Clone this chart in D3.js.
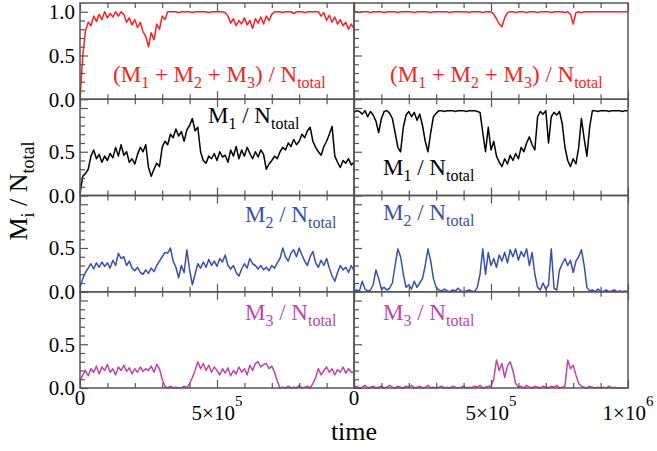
<!DOCTYPE html>
<html>
<head>
<meta charset="utf-8">
<script src="https://cdn.jsdelivr.net/npm/d3@7"></script>
<style>
  body { margin: 0; background: #fff; }
  svg { display: block; }
  text { font-family: "Liberation Serif", "Times New Roman", serif; }
</style>
</head>
<body>
<svg id="chart" width="657" height="451"></svg>
<script>
// samples every 1e4 time steps, 0 .. 1e6
const times = d3.range(0, 1000001, 10000);

const totalLeft = [
  0.00, 0.50, 0.78, 0.88, 0.84, 0.95, 0.89, 0.97, 0.91, 1.00,
  0.93, 0.98, 0.94, 1.00, 0.95, 1.00, 0.97, 0.88, 0.93, 0.85,
  0.91, 0.82, 0.88, 0.77, 0.72, 0.60, 0.76, 0.68, 0.86, 0.80,
  0.95, 0.91, 1.00, 1.00, 1.00, 1.00, 0.99, 1.00, 1.00, 1.00,
  1.00, 0.99, 1.00, 1.00, 1.00, 1.00, 1.00, 0.99, 1.00, 1.00,
  1.00, 1.00, 1.00, 0.99, 0.95, 0.87, 0.92, 0.84, 0.90, 0.86,
  0.93, 0.85, 0.90, 0.81, 0.92, 0.87, 0.94, 0.86, 0.95, 0.90,
  0.97, 1.00, 1.00, 1.00, 0.99, 1.00, 1.00, 1.00, 0.98, 1.00,
  1.00, 1.00, 0.99, 1.00, 1.00, 1.00, 1.00, 1.00, 0.95, 0.99,
  0.90, 0.96, 0.88, 0.94, 0.86, 0.91, 0.84, 0.88, 0.80, 0.86,
  0.80
];
const totalRight = [
  1.00, 1.00, 0.99, 1.00, 1.00, 1.00, 0.99, 1.00, 1.00, 1.00,
  1.00, 0.99, 1.00, 1.00, 1.00, 1.00, 0.99, 1.00, 1.00, 1.00,
  1.00, 1.00, 0.99, 1.00, 1.00, 1.00, 1.00, 1.00, 0.99, 1.00,
  1.00, 1.00, 1.00, 1.00, 1.00, 0.99, 1.00, 1.00, 1.00, 1.00,
  1.00, 1.00, 0.99, 1.00, 1.00, 1.00, 1.00, 0.99, 1.00, 1.00,
  1.00, 0.97, 0.92, 0.86, 0.83, 0.93, 0.99, 1.00, 1.00, 0.99,
  1.00, 1.00, 1.00, 0.99, 1.00, 1.00, 1.00, 0.99, 1.00, 1.00,
  1.00, 1.00, 0.99, 1.00, 1.00, 1.00, 1.00, 0.99, 1.00, 0.97,
  0.86, 0.99, 1.00, 0.99, 1.00, 1.00, 1.00, 1.00, 1.00, 1.00,
  1.00, 1.00, 1.00, 1.00, 1.00, 1.00, 1.00, 1.00, 1.00, 1.00,
  1.00
];
const m1Left = [
  0.02, 0.22, 0.25, 0.30, 0.45, 0.52, 0.42, 0.47, 0.38, 0.45,
  0.40, 0.48, 0.43, 0.55, 0.45, 0.58, 0.46, 0.50, 0.38, 0.42,
  0.36, 0.47, 0.55, 0.50, 0.58, 0.32, 0.22, 0.30, 0.37, 0.33,
  0.55, 0.62, 0.58, 0.70, 0.66, 0.76, 0.68, 0.73, 0.62, 0.75,
  0.80, 0.88, 0.74, 0.78, 0.50, 0.40, 0.37, 0.45, 0.42, 0.48,
  0.40, 0.50, 0.44, 0.46, 0.38, 0.52, 0.45, 0.56, 0.42, 0.52,
  0.45, 0.55, 0.48, 0.42, 0.50, 0.44, 0.52, 0.47, 0.30, 0.36,
  0.40, 0.45, 0.42, 0.50, 0.55, 0.52, 0.60, 0.56, 0.64, 0.58,
  0.62, 0.70, 0.66, 0.74, 0.78, 0.62, 0.55, 0.50, 0.46, 0.56,
  0.62, 0.70, 0.79, 0.45, 0.38, 0.32, 0.40, 0.37, 0.42, 0.35,
  0.38
];
const m1Right = [
  0.95, 0.97, 0.96, 0.93, 0.97, 0.90, 0.96, 0.92, 0.85, 0.72,
  0.88, 0.96, 0.97, 0.94, 0.88, 0.72, 0.55, 0.50, 0.78, 0.92,
  0.96, 0.90, 0.95, 0.86, 0.93, 0.80, 0.62, 0.50, 0.72, 0.90,
  0.94, 0.97, 0.97, 0.96, 0.97, 0.97, 0.97, 0.96, 0.97, 0.97,
  0.97, 0.96, 0.97, 0.97, 0.97, 0.96, 0.95, 0.72, 0.50, 0.78,
  0.52, 0.62, 0.45, 0.38, 0.33, 0.42, 0.36, 0.46, 0.40, 0.48,
  0.42, 0.55, 0.50, 0.60, 0.67, 0.58, 0.52, 0.90, 0.96, 0.93,
  0.97, 0.60, 0.90, 0.95, 0.92, 0.96, 0.82, 0.55, 0.40, 0.33,
  0.42, 0.36, 0.55, 0.88, 0.65, 0.45, 0.78, 0.97, 0.97, 0.96,
  0.97, 0.97, 0.97, 0.96, 0.97, 0.97, 0.97, 0.97, 0.96, 0.97,
  0.97
];
const m2Left = [
  0.05, 0.15, 0.22, 0.27, 0.32, 0.26, 0.33, 0.28, 0.34, 0.29,
  0.33, 0.27, 0.36, 0.30, 0.44, 0.38, 0.40, 0.30, 0.35, 0.27,
  0.24, 0.28, 0.22, 0.20, 0.25, 0.21, 0.27, 0.23, 0.30, 0.35,
  0.40, 0.45, 0.44, 0.50, 0.35, 0.28, 0.16, 0.30, 0.22, 0.48,
  0.25, 0.08, 0.20, 0.32, 0.27, 0.34, 0.28, 0.37, 0.30, 0.35,
  0.29, 0.38, 0.34, 0.42, 0.30, 0.26, 0.30, 0.22, 0.18, 0.26,
  0.32, 0.27, 0.38, 0.32, 0.30, 0.26, 0.30, 0.25, 0.28, 0.24,
  0.30, 0.27, 0.33, 0.38, 0.50, 0.40, 0.35, 0.44, 0.48, 0.40,
  0.50, 0.42, 0.35, 0.30, 0.40, 0.46, 0.33, 0.28, 0.36, 0.30,
  0.38, 0.27, 0.18, 0.12, 0.22, 0.30, 0.25, 0.28, 0.22, 0.30,
  0.24
];
const m2Right = [
  0.01, 0.02, 0.01, 0.12, 0.03, 0.01, 0.02, 0.08, 0.25, 0.15,
  0.03, 0.05, 0.02, 0.04, 0.10, 0.30, 0.49, 0.40, 0.20, 0.05,
  0.08, 0.03, 0.12, 0.05, 0.10, 0.15, 0.30, 0.49, 0.35, 0.15,
  0.05, 0.02, 0.01, 0.03, 0.01, 0.00, 0.02, 0.01, 0.04, 0.01,
  0.00, 0.01, 0.02, 0.01, 0.00, 0.05, 0.20, 0.49, 0.20, 0.45,
  0.30, 0.38, 0.28, 0.42, 0.35, 0.45, 0.33, 0.48, 0.40, 0.49,
  0.36, 0.46, 0.40, 0.49, 0.30, 0.45, 0.20, 0.05, 0.02, 0.10,
  0.03, 0.08, 0.49, 0.04, 0.02, 0.25, 0.32, 0.38, 0.30, 0.36,
  0.22, 0.35, 0.40, 0.48, 0.30, 0.05, 0.01, 0.02, 0.00, 0.03,
  0.01, 0.00, 0.02, 0.00, 0.01, 0.02, 0.00, 0.01, 0.00, 0.01,
  0.00
];
const m3Left = [
  0.08, 0.15, 0.20, 0.14, 0.22, 0.18, 0.25, 0.16, 0.24, 0.20,
  0.27, 0.18, 0.22, 0.15, 0.24, 0.20, 0.26, 0.19, 0.23, 0.16,
  0.22, 0.18, 0.24, 0.19, 0.22, 0.20, 0.25, 0.18, 0.27, 0.22,
  0.10, 0.02, 0.00, 0.02, 0.00, 0.01, 0.00, 0.00, 0.02, 0.00,
  0.05, 0.12, 0.20, 0.30, 0.22, 0.28, 0.20, 0.26, 0.18, 0.24,
  0.20, 0.15, 0.22, 0.17, 0.23, 0.14, 0.20, 0.16, 0.24, 0.18,
  0.22, 0.15, 0.26, 0.20, 0.28, 0.30, 0.24, 0.27, 0.28, 0.22,
  0.25, 0.18, 0.08, 0.00, 0.01, 0.00, 0.02, 0.00, 0.01, 0.00,
  0.03, 0.00, 0.01, 0.02, 0.00, 0.05, 0.12, 0.22, 0.15, 0.20,
  0.24, 0.18, 0.22, 0.15, 0.21, 0.18, 0.24, 0.17, 0.22, 0.18,
  0.18
];
const m3Right = [
  0.01, 0.02, 0.00, 0.01, 0.03, 0.00, 0.01, 0.02, 0.00, 0.01,
  0.02, 0.00, 0.01, 0.03, 0.01, 0.00, 0.02, 0.01, 0.00, 0.02,
  0.01, 0.03, 0.00, 0.01, 0.02, 0.00, 0.01, 0.03, 0.00, 0.01,
  0.00, 0.01, 0.02, 0.00, 0.01, 0.00, 0.02, 0.01, 0.00, 0.01,
  0.02, 0.00, 0.01, 0.00, 0.02, 0.01, 0.03, 0.00, 0.01, 0.02,
  0.02, 0.10, 0.32, 0.20, 0.28, 0.12, 0.25, 0.30, 0.20, 0.05,
  0.01, 0.02, 0.00, 0.03, 0.01, 0.00, 0.02, 0.01, 0.00, 0.02,
  0.01, 0.00, 0.02, 0.01, 0.03, 0.00, 0.01, 0.02, 0.32, 0.22,
  0.26, 0.15, 0.05, 0.02, 0.01, 0.00, 0.02, 0.01, 0.00, 0.01,
  0.00, 0.01, 0.00, 0.02, 0.00, 0.01, 0.00, 0.00, 0.00, 0.00,
  0.00
];

const yTickLabels = ["0.0", "0.5", "1.0"];

const RED = "#ff2020", BLACK = "#000000", BLUE = "#3a4db2", MAGENTA = "#c342a8";

// label pieces: [text, subscript?]
const sumLabel = [["(M", 0], ["1", 1], [" + M", 0], ["2", 1], [" + M", 0], ["3", 1], [") / N", 0], ["total", 1]];
const mLabel = k => [["M", 0], [k, 1], [" / N", 0], ["total", 1]];

const rows = [
  { left: totalLeft, right: totalRight, color: RED, label: sumLabel,
    lPos: [113, 82], rPos: [390, 82], yLabels: [0, 0.5, 1.0] },
  { left: m1Left, right: m1Right, color: BLACK, label: mLabel("1"),
    lPos: [208, 123], rPos: [383, 175], yLabels: [0, 0.5] },
  { left: m2Left, right: m2Right, color: BLUE, label: mLabel("2"),
    lPos: [245, 222], rPos: [383, 220], yLabels: [0, 0.5] },
  { left: m3Left, right: m3Right, color: MAGENTA, label: mLabel("3"),
    lPos: [245, 320], rPos: [383, 320], yLabels: [0, 0.5] }
];

const svg = d3.select("#chart");
const left0 = 80, panelW = 274, top0 = 3, rowH = 96.25;
const frameColor = "#555";

const x = d3.scaleLinear().domain([0, 1e6]).range([0, panelW]);
const y = d3.scaleLinear().domain([0, 1.1]).range([rowH, 0]);

const xMajor = [0, 5e5, 1e6];
const xMinor = d3.range(1e5, 1e6, 1e5).filter(v => v !== 5e5);
const yMajor = [0, 0.5, 1.0];
const yMinor = [0.1, 0.2, 0.3, 0.4, 0.6, 0.7, 0.8, 0.9];

function styleAxis(g) {
  g.select(".domain").remove();
  g.selectAll("line").attr("stroke", frameColor).attr("stroke-width", 1.2);
  g.selectAll("text").remove();
}

function addLabel(g, pos, parts, color, size, subSize) {
  const t = g.append("text")
    .attr("x", pos[0]).attr("y", pos[1])
    .attr("fill", color)
    .style("font-size", size + "px")
    .attr("xml:space", "preserve");
  let shifted = false;
  parts.forEach(([s, sub]) => {
    const ts = t.append("tspan").text(s);
    if (sub && !shifted) { ts.attr("dy", 6).style("font-size", subSize + "px"); shifted = true; }
    else if (sub) { ts.style("font-size", subSize + "px"); }
    else if (shifted) { ts.attr("dy", -6); shifted = false; }
  });
}

const line = d3.line()
  .x((d, i) => x(times[i]))
  .y(d => y(d));

rows.forEach((row, r) => {
  const rowTop = top0 + r * rowH;
  [row.left, row.right].forEach((vals, c) => {
    const g = svg.append("g")
      .attr("transform", `translate(${left0 + c * panelW},${rowTop})`);

    g.append("path")
      .datum(vals)
      .attr("d", line)
      .attr("fill", "none")
      .attr("stroke", row.color)
      .attr("stroke-width", 1.5)
      .attr("stroke-linejoin", "round");

    // inward ticks on left, top, bottom
    g.append("g").call(d3.axisLeft(y).tickValues(yMajor).tickSize(-8)).call(styleAxis);
    g.append("g").call(d3.axisLeft(y).tickValues(yMinor).tickSize(-5)).call(styleAxis);
    g.append("g").attr("transform", `translate(0,${rowH})`)
      .call(d3.axisBottom(x).tickValues(xMajor).tickSize(-8)).call(styleAxis);
    g.append("g").attr("transform", `translate(0,${rowH})`)
      .call(d3.axisBottom(x).tickValues(xMinor).tickSize(-5)).call(styleAxis);
    g.append("g").call(d3.axisTop(x).tickValues(xMajor).tickSize(-8)).call(styleAxis);
    g.append("g").call(d3.axisTop(x).tickValues(xMinor).tickSize(-5)).call(styleAxis);

    g.append("rect")
      .attr("width", panelW).attr("height", rowH)
      .attr("fill", "none")
      .attr("stroke", frameColor)
      .attr("stroke-width", 1.5);
  });

  // panel labels
  addLabel(svg, row.lPos, row.label, row.color, 23, 16);
  addLabel(svg, row.rPos, row.label, row.color, 23, 16);

  // y tick labels
  row.yLabels.forEach(v => {
    svg.append("text")
      .attr("x", 75)
      .attr("y", rowTop + y(v))
      .attr("dy", "0.35em")
      .attr("text-anchor", "end")
      .style("font-size", "21px")
      .text(yTickLabels[yMajor.indexOf(v)]);
  });
});

// x tick labels
const bottomY = top0 + 4 * rowH;
[0, 1].forEach(c => {
  const ox = left0 + c * panelW;
  svg.append("text")
    .attr("x", ox + x(0)).attr("y", bottomY + 17)
    .attr("text-anchor", "middle")
    .style("font-size", "21px")
    .text("0");
  const sci = [[5e5, "5×10", "5"]];
  if (c === 1) sci.push([1e6, "1×10", "6"]);
  sci.forEach(([v, base, exp]) => {
    const t = svg.append("text")
      .attr("x", ox + x(v)).attr("y", bottomY + 32)
      .attr("text-anchor", "middle")
      .style("font-size", "21px");
    t.append("tspan").text(base);
    t.append("tspan").attr("dy", -14).style("font-size", "15px").text(exp);
  });
});

// axis titles
svg.append("text")
  .attr("x", left0 + panelW)
  .attr("y", 440)
  .attr("text-anchor", "middle")
  .style("font-size", "26px")
  .text("time");

const yt = svg.append("text")
  .attr("transform", "translate(27,191) rotate(-90)")
  .attr("text-anchor", "middle")
  .style("font-size", "26px")
  .attr("xml:space", "preserve");
yt.append("tspan").text("M");
yt.append("tspan").attr("dy", 7).style("font-size", "18px").text("i");
yt.append("tspan").attr("dy", -7).text(" / N");
yt.append("tspan").attr("dy", 7).style("font-size", "18px").text("total");
</script>
</body>
</html>
